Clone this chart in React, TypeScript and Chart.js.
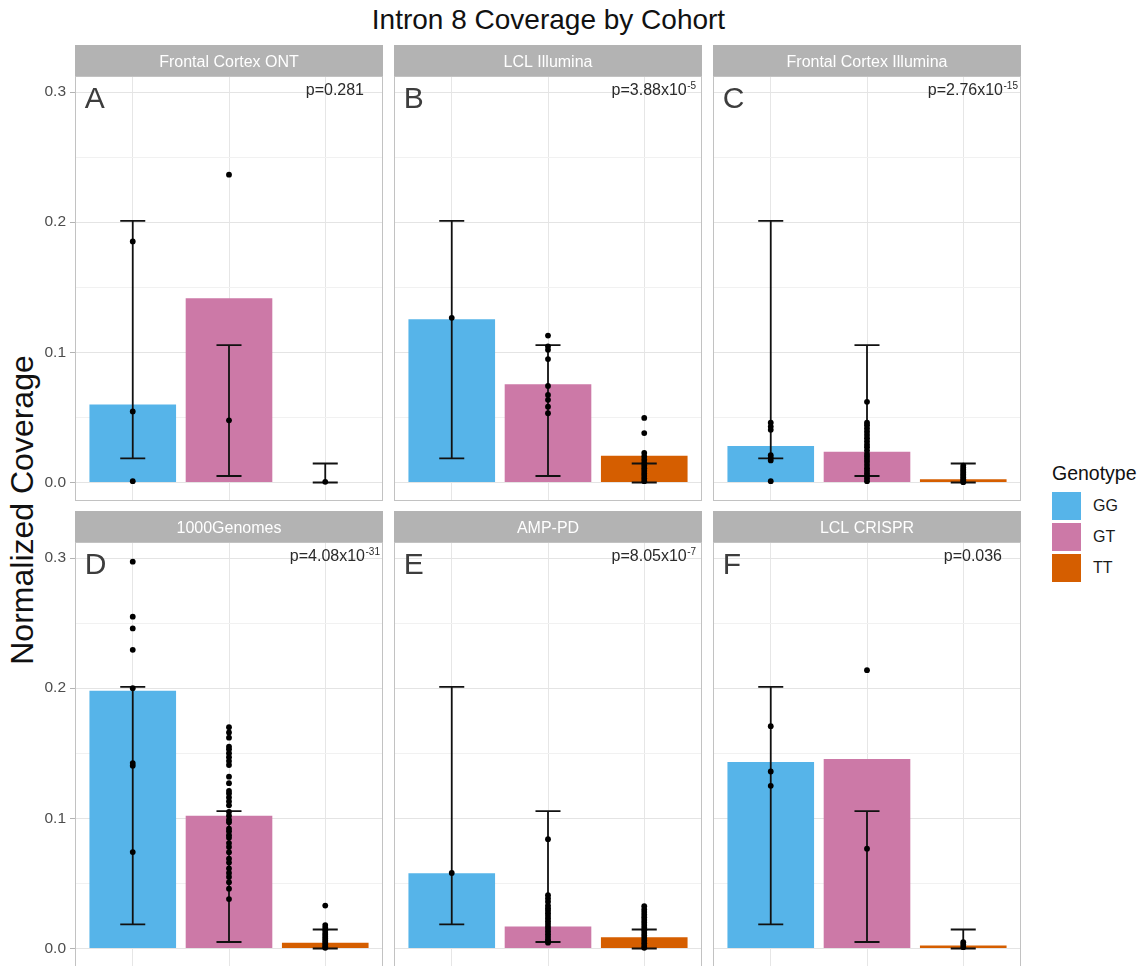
import React, { useEffect, useRef } from "react";
import { Chart, registerables } from "chart.js";

Chart.register(...registerables);

const FONT = "'Liberation Sans', Arial, Helvetica, sans-serif";

// ---- data ----
const GENOTYPES = ["GG", "GT", "TT"];
const GENOTYPE_COLORS = ["#56B4E9", "#CC79A7", "#D55E00"];

const COHORTS = [
  "Frontal Cortex ONT",
  "LCL Illumina",
  "Frontal Cortex Illumina",
  "1000Genomes",
  "AMP-PD",
  "LCL CRISPR",
];
const PANEL_TAGS = ["A", "B", "C", "D", "E", "F"];
const P_BASE = ["p=0.281", "p=3.88x10", "p=2.76x10", "p=4.08x10", "p=8.05x10", "p=0.036"];
const P_EXP = ["", "-5", "-15", "-31", "-7", ""];

const Y_TICKS = [0, 0.05, 0.1, 0.15, 0.2, 0.25, 0.3];
const Y_TICK_LABELS = ["0.0", "", "0.1", "", "0.2", "", "0.3"];
const Y_MIN = -0.0142;
const Y_MAX = 0.3123;

// error bar limits per genotype (GG, GT, TT)
const ERR_LOW = [0.0185, 0.005, 0.0];
const ERR_HIGH = [0.201, 0.1055, 0.0146];

// mean normalized coverage per genotype (GG, GT, TT)
const MEAN_A = [0.06, 0.1415, 0.0];
const MEAN_B = [0.1255, 0.0755, 0.0205];
const MEAN_C = [0.028, 0.0237, 0.0025];
const MEAN_D = [0.198, 0.102, 0.0045];
const MEAN_E = [0.0578, 0.017, 0.0087];
const MEAN_F = [0.1433, 0.1455, 0.0023];

// individual samples
const PTS_A_GG = [0.1852, 0.0546, 0.001];
const PTS_A_GT = [0.2365, 0.0478];
const PTS_A_TT = [0.0005];

const PTS_B_GG = [0.1265];
const PTS_B_GT = [0.1129, 0.1045, 0.1019, 0.0948, 0.0742, 0.0673, 0.0635, 0.0583, 0.0532];
const PTS_B_TT = [0.0496, 0.038, 0.0227, 0.02, 0.0175, 0.015, 0.013, 0.011, 0.009, 0.007, 0.005, 0.003, 0.001];

const PTS_C_GG = [0.046, 0.043, 0.0405, 0.021, 0.019, 0.017, 0.001];
const PTS_C_GT = [
  0.062, 0.046, 0.044, 0.0415, 0.039, 0.0365, 0.034, 0.0315, 0.029, 0.027, 0.0245,
  0.022, 0.02, 0.018, 0.016, 0.0135, 0.011, 0.009, 0.007, 0.005, 0.003, 0.001,
];
const PTS_C_TT = [0.013, 0.0115, 0.01, 0.0088, 0.0075, 0.0062, 0.005, 0.0038, 0.0025, 0.0012, 0.0003];

const PTS_D_GG = [0.2972, 0.2549, 0.2459, 0.2295, 0.2, 0.1425, 0.1405, 0.0741];
const PTS_D_GT = [
  0.17, 0.166, 0.162, 0.155, 0.153, 0.15, 0.147, 0.144, 0.141, 0.132, 0.127, 0.121,
  0.119, 0.116, 0.113, 0.11, 0.105, 0.102, 0.099, 0.097, 0.092, 0.09, 0.087, 0.085,
  0.081, 0.078, 0.074, 0.069, 0.066, 0.0615, 0.058, 0.055, 0.051, 0.046, 0.038,
];
const PTS_D_TT = [0.033, 0.018, 0.016, 0.014, 0.012, 0.0105, 0.009, 0.0075, 0.006, 0.0045, 0.003, 0.0015, 0.0005];

const PTS_E_GG = [0.058];
const PTS_E_GT = [
  0.084, 0.041, 0.0385, 0.036, 0.033, 0.031, 0.029, 0.027, 0.025, 0.023, 0.021,
  0.019, 0.017, 0.015, 0.013, 0.011, 0.009, 0.007, 0.0055, 0.0045,
];
const PTS_E_TT = [
  0.0325, 0.03, 0.028, 0.026, 0.024, 0.022, 0.02, 0.018, 0.016, 0.014, 0.012, 0.01,
  0.008, 0.006, 0.004, 0.002, 0.0005,
];

const PTS_F_GG = [0.1708, 0.136, 0.125];
const PTS_F_GT = [0.2138, 0.0767];
const PTS_F_TT = [0.0048, 0.003, 0.001];

const MEANS = [MEAN_A, MEAN_B, MEAN_C, MEAN_D, MEAN_E, MEAN_F];
const POINTS = [
  [PTS_A_GG, PTS_A_GT, PTS_A_TT],
  [PTS_B_GG, PTS_B_GT, PTS_B_TT],
  [PTS_C_GG, PTS_C_GT, PTS_C_TT],
  [PTS_D_GG, PTS_D_GT, PTS_D_TT],
  [PTS_E_GG, PTS_E_GT, PTS_E_TT],
  [PTS_F_GG, PTS_F_GT, PTS_F_TT],
];

// ---- layout ----
const COL_X = [75, 394, 713];
const ROW_Y = [45, 511];
const PANEL_W = 308;
const STRIP_H = 31;
const PLOT_H = 425;
const AXIS_W = 75;

function makeDecor(idx: number) {
  return {
    id: "panelDecor" + idx,
    afterDatasetDraw(chart: any, args: any) {
      if (args.meta.type !== "bar") return;
      const { ctx, scales } = chart;
      const xs = scales.x;
      const ys = scales.y;
      ctx.save();
      ctx.strokeStyle = "#111111";
      ctx.lineWidth = 1.8;
      GENOTYPES.forEach((_g, i) => {
        const px = xs.getPixelForValue(i);
        const lo = ys.getPixelForValue(ERR_LOW[i]);
        const hi = ys.getPixelForValue(ERR_HIGH[i]);
        const l = xs.getPixelForValue(i - 0.13);
        const r = xs.getPixelForValue(i + 0.13);
        ctx.beginPath();
        ctx.moveTo(px, lo);
        ctx.lineTo(px, hi);
        ctx.moveTo(l, lo);
        ctx.lineTo(r, lo);
        ctx.moveTo(l, hi);
        ctx.lineTo(r, hi);
        ctx.stroke();
      });
      ctx.restore();
    },
    afterDraw(chart: any) {
      const { ctx, chartArea: a, scales } = chart;
      const xs = scales.x;
      const ys = scales.y;
      const w = a.right - a.left;
      ctx.save();
      // facet strip
      ctx.fillStyle = "#b3b3b3";
      ctx.fillRect(a.left, a.top - STRIP_H, w, STRIP_H);
      ctx.fillStyle = "#ffffff";
      ctx.font = `16px ${FONT}`;
      ctx.textAlign = "center";
      ctx.textBaseline = "alphabetic";
      ctx.fillText(COHORTS[idx], a.left + w / 2, a.top - STRIP_H + 21.5);
      // panel border
      ctx.strokeStyle = "#c2c2c2";
      ctx.lineWidth = 1;
      ctx.strokeRect(a.left + 0.5, a.top + 0.5, w - 1, a.bottom - a.top - 1);
      // panel tag
      ctx.fillStyle = "#3d3d3d";
      ctx.font = `30px ${FONT}`;
      ctx.textAlign = "left";
      ctx.fillText(PANEL_TAGS[idx], xs.getPixelForValue(-0.5), ys.getPixelForValue(0.288));
      // p-value with exponent
      ctx.fillStyle = "#2a2a2a";
      ctx.font = `16px ${FONT}`;
      const wb = ctx.measureText(P_BASE[idx]).width;
      ctx.font = `10px ${FONT}`;
      const we = P_EXP[idx] ? ctx.measureText(P_EXP[idx]).width + 0.5 : 0;
      const start = xs.getPixelForValue(2.1) - (wb + we) / 2;
      const yb = ys.getPixelForValue(0.2975);
      ctx.font = `16px ${FONT}`;
      ctx.fillText(P_BASE[idx], start, yb);
      if (P_EXP[idx]) {
        ctx.font = `10px ${FONT}`;
        ctx.fillText(P_EXP[idx], start + wb + 0.5, yb - 6.5);
      }
      ctx.restore();
    },
  };
}

function Panel({ idx }: { idx: number }) {
  const ref = useRef<HTMLCanvasElement>(null);
  const col = idx % 3;
  const row = Math.floor(idx / 3);
  const showAxis = col === 0;
  const left = showAxis ? 0 : COL_X[col];
  const width = showAxis ? AXIS_W + PANEL_W : PANEL_W;
  const top = ROW_Y[row];
  const height = STRIP_H + PLOT_H;

  useEffect(() => {
    const means = MEANS[idx];
    const barData = GENOTYPES.map((_g, i) => ({ x: i, y: means[i] }));
    const ptData = POINTS[idx].flatMap((arr, i) => arr.map((v) => ({ x: i, y: v })));
    const chart = new Chart(ref.current as HTMLCanvasElement, {
      type: "bar",
      data: {
        datasets: [
          {
            type: "bar",
            data: barData as any,
            backgroundColor: GENOTYPE_COLORS,
            borderWidth: 0,
            barPercentage: 1,
            categoryPercentage: 0.9,
            order: 2,
          } as any,
          {
            type: "scatter",
            data: ptData as any,
            pointRadius: 2.9,
            pointHoverRadius: 2.9,
            backgroundColor: "#000000",
            borderWidth: 0,
            order: 1,
          } as any,
        ],
      },
      options: {
        responsive: false,
        animation: false,
        devicePixelRatio: 1,
        events: [],
        layout: { autoPadding: false, padding: { top: STRIP_H, left: 0, right: 0, bottom: 0 } },
        plugins: {
          legend: { display: false },
          tooltip: { enabled: false },
          title: { display: false },
        },
        scales: {
          x: {
            type: "linear",
            min: -0.6,
            max: 2.6,
            offset: false,
            afterBuildTicks: (axis: any) => {
              axis.ticks = GENOTYPES.map((_g, i) => ({ value: i }));
            },
            afterFit: (axis: any) => {
              axis.height = 0;
              axis.paddingLeft = 0;
              axis.paddingRight = 0;
              axis.paddingTop = 0;
              axis.paddingBottom = 0;
            },
            ticks: { display: false, padding: 0 },
            grid: { color: "#e6e6e6", lineWidth: 1, drawTicks: false, offset: false },
            border: { display: false },
          },
          y: {
            type: "linear",
            min: Y_MIN,
            max: Y_MAX,
            afterBuildTicks: (axis: any) => {
              axis.ticks = Y_TICKS.map((v) => ({ value: v }));
            },
            afterFit: (axis: any) => {
              axis.width = showAxis ? AXIS_W : 0;
              axis.paddingTop = 0;
              axis.paddingBottom = 0;
              axis.paddingLeft = 0;
              axis.paddingRight = 0;
            },
            ticks: {
              display: showAxis,
              autoSkip: false,
              padding: 4,
              color: "#4d4d4d",
              font: { family: FONT, size: 15.5 },
              callback: (_v: any, i: number) => Y_TICK_LABELS[i],
            },
            grid: {
              color: (c: any) => (Y_TICK_LABELS[c.index] ? "#e4e4e4" : "#f1f1f1"),
              lineWidth: 1,
              drawTicks: showAxis,
              tickLength: 5,
              tickColor: (c: any) => (Y_TICK_LABELS[c.index] ? "#b3b3b3" : "rgba(0,0,0,0)"),
            },
            border: { display: false },
          },
        } as any,
      },
      plugins: [makeDecor(idx)],
    });
    return () => chart.destroy();
  }, []);

  return (
    <canvas
      ref={ref}
      width={width}
      height={height}
      style={{ position: "absolute", left, top, width, height }}
    />
  );
}

export default function App() {
  return (
    <div
      style={{
        position: "absolute",
        left: 0,
        top: 0,
        width: 1141,
        height: 966,
        overflow: "hidden",
        background: "#ffffff",
        fontFamily: FONT,
      }}
    >
      <div
        style={{
          position: "absolute",
          left: 75,
          top: 3,
          width: 947,
          textAlign: "center",
          fontSize: 28,
          lineHeight: "34px",
          color: "#111111",
        }}
      >
        Intron 8 Coverage by Cohort
      </div>
      <div
        style={{
          position: "absolute",
          left: -178,
          top: 490,
          width: 400,
          height: 40,
          textAlign: "center",
          fontSize: 32,
          lineHeight: "40px",
          color: "#111111",
          transform: "rotate(-90deg)",
          transformOrigin: "center center",
          whiteSpace: "nowrap",
        }}
      >
        Normalized Coverage
      </div>
      {COHORTS.map((_c, i) => (
        <Panel key={i} idx={i} />
      ))}
      <div
        style={{
          position: "absolute",
          left: 1052,
          top: 461,
          fontSize: 19.5,
          lineHeight: "24px",
          color: "#111111",
          whiteSpace: "nowrap",
        }}
      >
        Genotype
      </div>
      {GENOTYPES.map((g, i) => (
        <React.Fragment key={g}>
          <div
            style={{
              position: "absolute",
              left: 1052,
              top: 492 + i * 31,
              width: 29,
              height: 28,
              background: GENOTYPE_COLORS[i],
            }}
          />
          <div
            style={{
              position: "absolute",
              left: 1093,
              top: 492 + i * 31,
              fontSize: 16,
              lineHeight: "28px",
              color: "#1a1a1a",
            }}
          >
            {g}
          </div>
        </React.Fragment>
      ))}
    </div>
  );
}
